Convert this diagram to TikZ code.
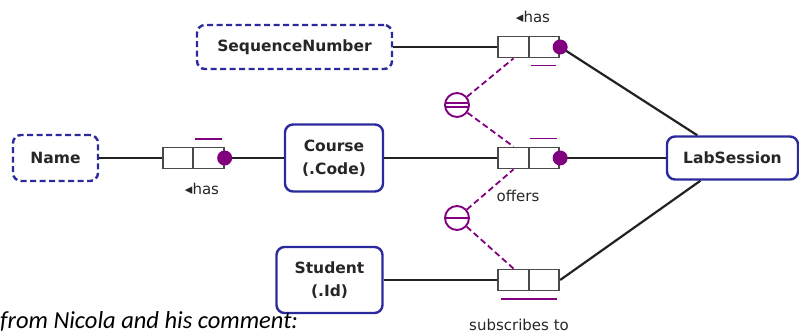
\documentclass[tikz,border=0pt]{standalone}
\usepackage{fontspec}
\setmainfont{DejaVu Sans}
\newfontfamily\calfont{Carlito}
\usetikzlibrary{calc}
\definecolor{entblue}{HTML}{2A2A9E}
\definecolor{cpurple}{HTML}{800080}
\definecolor{linegray}{HTML}{222222}
\definecolor{rolegray}{HTML}{4A4A4A}
\tikzset{
 entity/.style={draw=entblue, line width=2.4pt, rounded corners=8pt, fill=white, font=\fontsize{15.5}{23}\selectfont\bfseries, text=black!85, align=center, inner sep=0pt},
 valuetype/.style={entity, dash pattern=on 6pt off 3.5pt},
 rolebox/.style={draw=rolegray, line width=1.8pt, fill=white, minimum width=30.5pt, minimum height=21pt, inner sep=0pt},
 roledot/.style={circle, fill=cpurple, minimum size=15pt, inner sep=0pt},
 conn/.style={draw=linegray, line width=2.2pt},
 cons/.style={draw=cpurple, line width=1.8pt, dash pattern=on 6pt off 3.5pt},
 uniq/.style={draw=cpurple, line width=1.7pt},
 ringc/.style={circle, draw=cpurple, line width=1.9pt, minimum size=24pt, inner sep=0pt, fill=white},
 ringbar/.style={draw=cpurple, line width=1.5pt},
 lbl/.style={font=\fontsize{15}{17}\selectfont, text=black!85, inner sep=0pt},
}
\begin{document}
\begin{tikzpicture}[x=1pt,y=-1pt]
\useasboundingbox (0,0) rectangle (799,336);
\clip (0,0) rectangle (799,336);
% entities and value types
\node[valuetype, minimum width=195pt, minimum height=44pt] (seq) at (294.5,47) {SequenceNumber};
\node[valuetype, minimum width=85pt, minimum height=46pt] (name) at (55.5,158) {Name};
\node[entity, minimum width=98pt, minimum height=67pt] (course) at (334,158) {Course\\(.Code)};
\node[entity, minimum width=131pt, minimum height=43pt] (ls) at (732.5,158) {LabSession};
\node[entity, minimum width=106pt, minimum height=66pt] (stud) at (329.5,280) {Student\\(.Id)};
% roles
\node[rolebox] (ha) at (513.5,47) {};
\node[rolebox] (hb) at (544,47) {};
\node[rolebox] (na) at (178,158) {};
\node[rolebox] (nb) at (208.5,158) {};
\node[rolebox] (oa) at (513.5,158) {};
\node[rolebox] (ob) at (544,158) {};
\node[rolebox] (sa) at (513.5,280) {};
\node[rolebox] (sb) at (544,280) {};
% constraint circles
\node[ringc] (c1) at (457,105) {};
\node[ringc] (c2) at (457,218) {};
\draw[ringbar] ($(c1.center)+(-12,-1.8)$) -- ($(c1.center)+(12,-1.8)$);
\draw[ringbar] ($(c1.center)+(-12,1.8)$) -- ($(c1.center)+(12,1.8)$);
\draw[ringbar] ($(c2.center)+(-12,0)$) -- ($(c2.center)+(12,0)$);
% connectors
\draw[conn] (seq) -- (ha);
\draw[conn] (hb.east) -- (ls);
\draw[conn] (name) -- (na);
\draw[conn] (nb.east) -- (course);
\draw[conn] (course) -- (oa);
\draw[conn] (ob.east) -- (ls);
\draw[conn] (stud) -- (sa);
\draw[conn] (sb.east) -- (ls);
% constraint links
\draw[cons] (c1) -- (ha.south);
\draw[cons] (c1) -- (oa.north);
\draw[cons] (c2) -- (oa.south);
\draw[cons] (c2) -- (sa.north);
% mandatory dots
\node[roledot] (d1) at (hb.east) {};
\node[roledot] (d2) at (nb.east) {};
\node[roledot] (d3) at (ob.east) {};
% uniqueness bars
\draw[uniq] ($(hb.south west)+(3,7)$) -- ($(hb.south east)+(-4,7)$);
\draw[uniq] ($(nb.north west)+(3,-7.5)$) -- ($(nb.north east)+(-3,-7.5)$);
\draw[uniq] ($(ob.north west)+(2,-8)$) -- ($(ob.north east)+(-3,-8)$);
\draw[uniq] ($(sa.south west)+(4,7.5)$) -- ($(sb.south east)+(-3,7.5)$);
% labels
\node[lbl] (l1) at (533,17) {◂has};
\node[lbl] (l2) at (202,189) {◂has};
\node[lbl] (l3) at (518,196) {offers};
\node[lbl] (l4) at (519,325) {subscribes to};
\node[anchor=base west, font=\calfont\itshape\fontsize{24.5}{28}\selectfont, inner sep=0pt] (note) at (0,328) {from Nicola and his comment:};
\end{tikzpicture}
\end{document}
